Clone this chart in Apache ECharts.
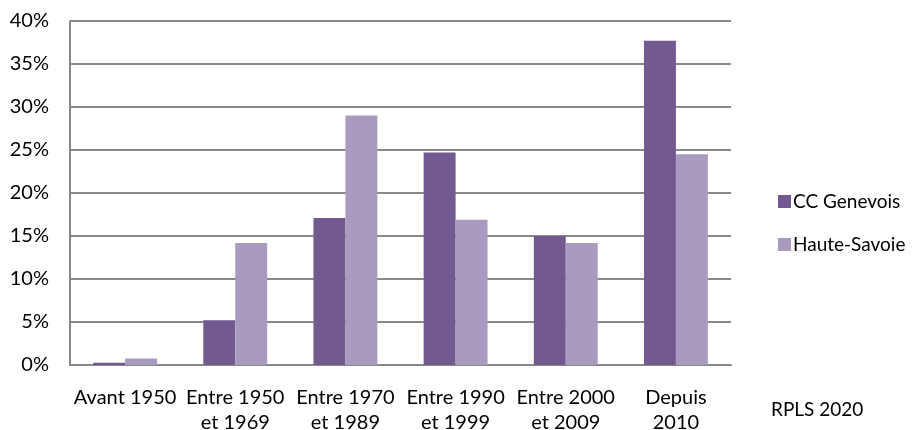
<!DOCTYPE html>
<html>
<head>
<meta charset="utf-8">
<script src="https://cdn.jsdelivr.net/npm/echarts@6/dist/echarts.min.js"></script>
<style>
html,body{margin:0;padding:0;background:#fff;}
#c{width:915px;height:430px;}
</style>
</head>
<body>
<div id="c"></div>
<script>
const categories = ["Avant 1950", "Entre 1950\net 1969", "Entre 1970\net 1989", "Entre 1990\net 1999", "Entre 2000\net 2009", "Depuis\n2010"];
const ccGenevois = [0.25, 5.2, 17.1, 24.7, 15.0, 37.7];
const hauteSavoie = [0.75, 14.2, 29.0, 16.9, 14.2, 24.5];
const seriesNames = ["CC Genevois", "Haute-Savoie"];
const sourceNote = "RPLS 2020";

const FONT = "Lato";
const FS = 20;
const chart = echarts.init(document.getElementById('c'), null, {renderer: 'canvas'});
chart.setOption({
  animation: false,
  backgroundColor: '#ffffff',
  grid: {left: 70, right: 184, top: 21, bottom: 65, containLabel: false, outerBoundsMode: 'none'},
  legend: {
    orient: 'vertical',
    left: 773, top: 187,
    itemWidth: 13, itemHeight: 13, itemGap: 24,
    icon: 'rect',
    textStyle: {fontFamily: FONT, fontSize: 19, color: '#000', padding: [0,0,0,-3]},
    data: seriesNames
  },
  graphic: [{
    type: 'text', left: 771, top: 400,
    style: {text: sourceNote, font: '19px "' + FONT + '"', fill: '#000'}
  }],
  xAxis: {
    type: 'category',
    data: categories,
    axisLine: {show: true, lineStyle: {color: '#888888', width: 2}},
    axisTick: {show: false},
    axisLabel: {interval: 0, fontFamily: FONT, fontSize: FS, color: '#000', margin: 20, lineHeight: 25},
    splitLine: {show: false}
  },
  yAxis: {
    type: 'value',
    min: 0, max: 40, interval: 5,
    axisLine: {show: true, lineStyle: {color: '#888888', width: 2}},
    axisTick: {show: false},
    axisLabel: {formatter: '{value}%', fontFamily: FONT, fontSize: FS, color: '#000', margin: 21},
    splitLine: {show: true, lineStyle: {color: '#888888', width: 2}}
  },
  series: [
    {name: seriesNames[0], type: 'bar', data: ccGenevois, barGap: '0%', barCategoryGap: '42%',
     itemStyle: {color: '#72598F'}},
    {name: seriesNames[1], type: 'bar', data: hauteSavoie, barGap: '0%', barCategoryGap: '42%',
     itemStyle: {color: '#A99ABF'}}
  ]
});
</script>
</body>
</html>
